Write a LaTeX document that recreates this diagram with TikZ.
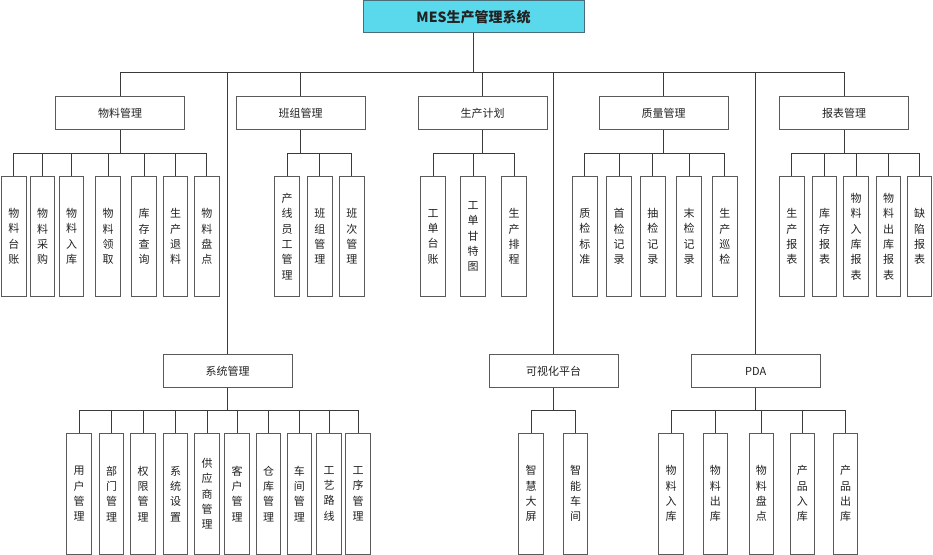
\documentclass[tikz,border=0pt]{standalone}
\usepackage{fontspec}
\setmainfont{Noto Sans CJK SC}
\definecolor{rootfill}{HTML}{5AD8EC}
\definecolor{rootline}{HTML}{4A6D7A}
\definecolor{boxline}{HTML}{5A5A5A}
\definecolor{conn}{HTML}{3A3A3A}
\definecolor{txt}{HTML}{222222}
\begin{document}
\begin{tikzpicture}[x=0.75pt,y=-0.75pt,
  rootbox/.style={draw=rootline,fill=rootfill,line width=0.75pt,minimum width=165.75pt,minimum height=24pt,inner sep=0pt,font=\fontsize{10.5pt}{12pt}\selectfont\bfseries,text=txt},
  midbox/.style={draw=boxline,fill=white,line width=0.75pt,minimum width=96.75pt,minimum height=24.75pt,inner sep=0pt,font=\fontsize{8.25pt}{10pt}\selectfont,text=txt},
  leafbox/.style={draw=boxline,fill=white,line width=0.75pt,minimum width=18.5pt,minimum height=90.6pt,inner sep=0pt,align=center,font=\fontsize{8.25pt}{11.5pt}\selectfont,text=txt},
  link/.style={draw=conn,line width=0.75pt}]
\useasboundingbox (0,0) rectangle (933,555);
\fill[white] (0,0) rectangle (933,555);
% bus levels
\coordinate (busA) at (0,73);
\coordinate (busB) at (0,154);
\coordinate (busC) at (0,411);
% root
\node[rootbox] (root) at (473.5,17) {MES生产管理系统};
% level 2 (top)
\node[midbox] (wl) at (120,113.5) {物料管理};
\node[midbox] (bz) at (300.5,113.5) {班组管理};
\node[midbox] (sc) at (482.5,113.5) {生产计划};
\node[midbox] (zl) at (663.5,113.5) {质量管理};
\node[midbox] (bb) at (844,113.5) {报表管理};
% level 2 (bottom)
\node[midbox] (xt) at (227.7,371) {系统管理};
\node[midbox] (ks) at (553.5,371) {可视化平台};
\node[midbox] (pda) at (755.7,371) {PDA};
% leaves: 物料管理
\node[leafbox] (wl1) at (13.85,236.5) {物\\料\\台\\账};
\node[leafbox] (wl2) at (42.65,236.5) {物\\料\\采\\购};
\node[leafbox] (wl3) at (71.65,236.5) {物\\料\\入\\库};
\node[leafbox] (wl4) at (108,236.5) {物\\料\\领\\取};
\node[leafbox] (wl5) at (144,236.5) {库\\存\\查\\询};
\node[leafbox] (wl6) at (175.65,236.5) {生\\产\\退\\料};
\node[leafbox] (wl7) at (206.8,236.5) {物\\料\\盘\\点};
% 班组管理
\node[leafbox] (bz1) at (287.15,236.5) {产\\线\\员\\工\\管\\理};
\node[leafbox] (bz2) at (319.8,236.5) {班\\组\\管\\理};
\node[leafbox] (bz3) at (351.8,236.5) {班\\次\\管\\理};
% 生产计划
\node[leafbox] (sc1) at (433,236.5) {工\\单\\台\\账};
\node[leafbox] (sc2) at (473.2,236.5) {工\\单\\甘\\特\\图};
\node[leafbox] (sc3) at (514.2,236.5) {生\\产\\排\\程};
% 质量管理
\node[leafbox] (zl1) at (584.8,236.5) {质\\检\\标\\准};
\node[leafbox] (zl2) at (619.2,236.5) {首\\检\\记\\录};
\node[leafbox] (zl3) at (652.8,236.5) {抽\\检\\记\\录};
\node[leafbox] (zl4) at (689,236.5) {末\\检\\记\\录};
\node[leafbox] (zl5) at (724.8,236.5) {生\\产\\巡\\检};
% 报表管理
\node[leafbox] (bb1) at (791.8,236.5) {生\\产\\报\\表};
\node[leafbox] (bb2) at (824.65,236.5) {库\\存\\报\\表};
\node[leafbox] (bb3) at (856,236.5) {物\\料\\入\\库\\报\\表};
\node[leafbox] (bb4) at (888.5,236.5) {物\\料\\出\\库\\报\\表};
\node[leafbox] (bb5) at (919.65,236.5) {缺\\陷\\报\\表};
% 系统管理
\node[leafbox] (xt1) at (79.2,493.7) {用\\户\\管\\理};
\node[leafbox] (xt2) at (111.65,493.7) {部\\门\\管\\理};
\node[leafbox] (xt3) at (143,493.7) {权\\限\\管\\理};
\node[leafbox] (xt4) at (175.5,493.7) {系\\统\\设\\置};
\node[leafbox] (xt5) at (207,493.7) {供\\应\\商\\管\\理};
\node[leafbox] (xt6) at (237,493.7) {客\\户\\管\\理};
\node[leafbox] (xt7) at (268.65,493.7) {仓\\库\\管\\理};
\node[leafbox] (xt8) at (299.35,493.7) {车\\间\\管\\理};
\node[leafbox] (xt9) at (329,493.7) {工\\艺\\路\\线};
\node[leafbox] (xt10) at (358,493.7) {工\\序\\管\\理};
% 可视化平台
\node[leafbox] (ks1) at (531,493.7) {智\\慧\\大\\屏};
\node[leafbox] (ks2) at (575.65,493.7) {智\\能\\车\\间};
% PDA
\node[leafbox] (pda1) at (671,493.7) {物\\料\\入\\库};
\node[leafbox] (pda2) at (715.35,493.7) {物\\料\\出\\库};
\node[leafbox] (pda3) at (761.35,493.7) {物\\料\\盘\\点};
\node[leafbox] (pda4) at (802.35,493.7) {产\\品\\入\\库};
\node[leafbox] (pda5) at (845.65,493.7) {产\\品\\出\\库};
% connectors from root
\foreach \c in {wl,bz,sc,zl,bb,xt,ks,pda}
  \draw[link] (root.south) -- (root.south |- busA) -| (\c.north);
% connectors to leaves (top)
\foreach \p/\list in {wl/{wl1,wl2,wl3,wl4,wl5,wl6,wl7},bz/{bz1,bz2,bz3},sc/{sc1,sc2,sc3},zl/{zl1,zl2,zl3,zl4,zl5},bb/{bb1,bb2,bb3,bb4,bb5}}
  \foreach \c in \list
    \draw[link] (\p.south) -- (\p.south |- busB) -| (\c.north);
% connectors to leaves (bottom)
\foreach \p/\list in {xt/{xt1,xt2,xt3,xt4,xt5,xt6,xt7,xt8,xt9,xt10},ks/{ks1,ks2},pda/{pda1,pda2,pda3,pda4,pda5}}
  \foreach \c in \list
    \draw[link] (\p.south) -- (\p.south |- busC) -| (\c.north);
\end{tikzpicture}
\end{document}
